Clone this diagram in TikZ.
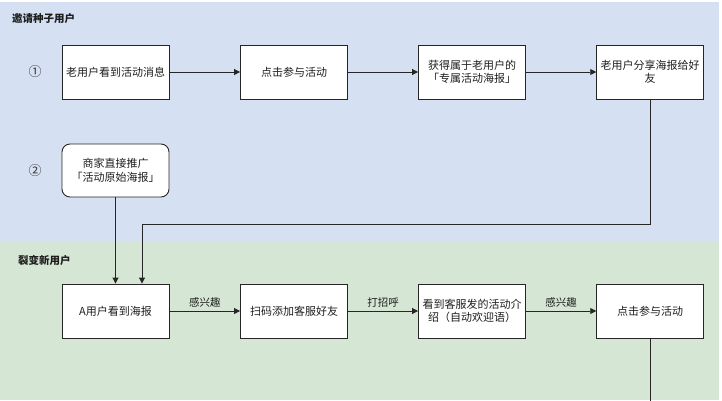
\documentclass[tikz,border=0pt]{standalone}
\usepackage{fontspec}
\setmainfont{Noto Sans CJK SC}
\usetikzlibrary{arrows.meta}
\definecolor{bluebg}{HTML}{D5E0F3}
\definecolor{greenbg}{HTML}{D5E7D4}
\definecolor{txt}{HTML}{1E1E1E}
\tikzset{
  stepbox/.style={draw=black!85, line width=0.9pt, fill=white, minimum width=107pt, minimum height=54pt,
    inner sep=2pt, align=center, text width=100pt, font=\fontsize{11}{13.5}\selectfont, text=txt},
  roundbox/.style={stepbox, rounded corners=8pt, minimum height=53pt},
  conn/.style={draw=black!85, line width=0.9pt, -{Triangle[length=6pt,width=6pt]}},
  plainconn/.style={draw=black!85, line width=0.9pt},
  lbl/.style={font=\fontsize{10.5}{12}\selectfont, text=txt, inner sep=1pt},
  sectitle/.style={font=\fontsize{10.5}{12}\selectfont\bfseries, text=txt, anchor=west, inner sep=0pt},
  circnum/.style={font=\fontsize{13}{13}\selectfont, text=black!80, inner sep=0pt}
}
\begin{document}
\begin{tikzpicture}[x=1pt,y=-1pt]
\useasboundingbox (0,0) rectangle (722,400);
\fill[white] (0,0) rectangle (722,400);
\fill[bluebg] (0,1.5) rectangle (719,242);
\fill[greenbg] (0,242) rectangle (719,400);

\node[sectitle] (t1) at (12,19) {邀请种子用户};
\node[sectitle] (t2) at (18,260) {裂变新用户};
\node[circnum] (n1) at (35,72) {①};
\node[circnum] (n2) at (35,170.5) {②};

\node[stepbox] (a1) at (115.5,72) {老用户看到活动消息};
\node[stepbox] (a2) at (294,72) {点击参与活动};
\node[stepbox] (a3) at (472,72) {获得属于老用户的\\「专属活动海报」};
\node[stepbox] (a4) at (650.2,72) {老用户分享海报给好\\友};

\node[roundbox] (b1) at (115.5,170.5) {商家直接推广\\「活动原始海报」};

\node[stepbox] (c1) at (115.5,311) {A用户看到海报};
\node[stepbox] (c2) at (294,311) {扫码添加客服好友};
\node[stepbox] (c3) at (472,311) {看到客服发的活动介\\绍（自动欢迎语）};
\node[stepbox] (c4) at (650.2,311) {点击参与活动};

\coordinate (bend) at (650.2,224);
\coordinate (end) at (650.2,401);

\draw[conn] (a1) -- (a2);
\draw[conn] (a2) -- (a3);
\draw[conn] (a3) -- (a4);
\draw[conn] (b1) -- (c1);
\draw[conn] (a4.south) -- (bend) -| ([xshift=26.5pt]c1.north);
\draw[conn] (c1) -- node[lbl, above=2pt] {感兴趣} (c2);
\draw[conn] (c2) -- node[lbl, above=2pt] {打招呼} (c3);
\draw[conn] (c3) -- node[lbl, above=2pt] {感兴趣} (c4);
\draw[plainconn] (c4.south) -- (end);
\end{tikzpicture}
\end{document}
